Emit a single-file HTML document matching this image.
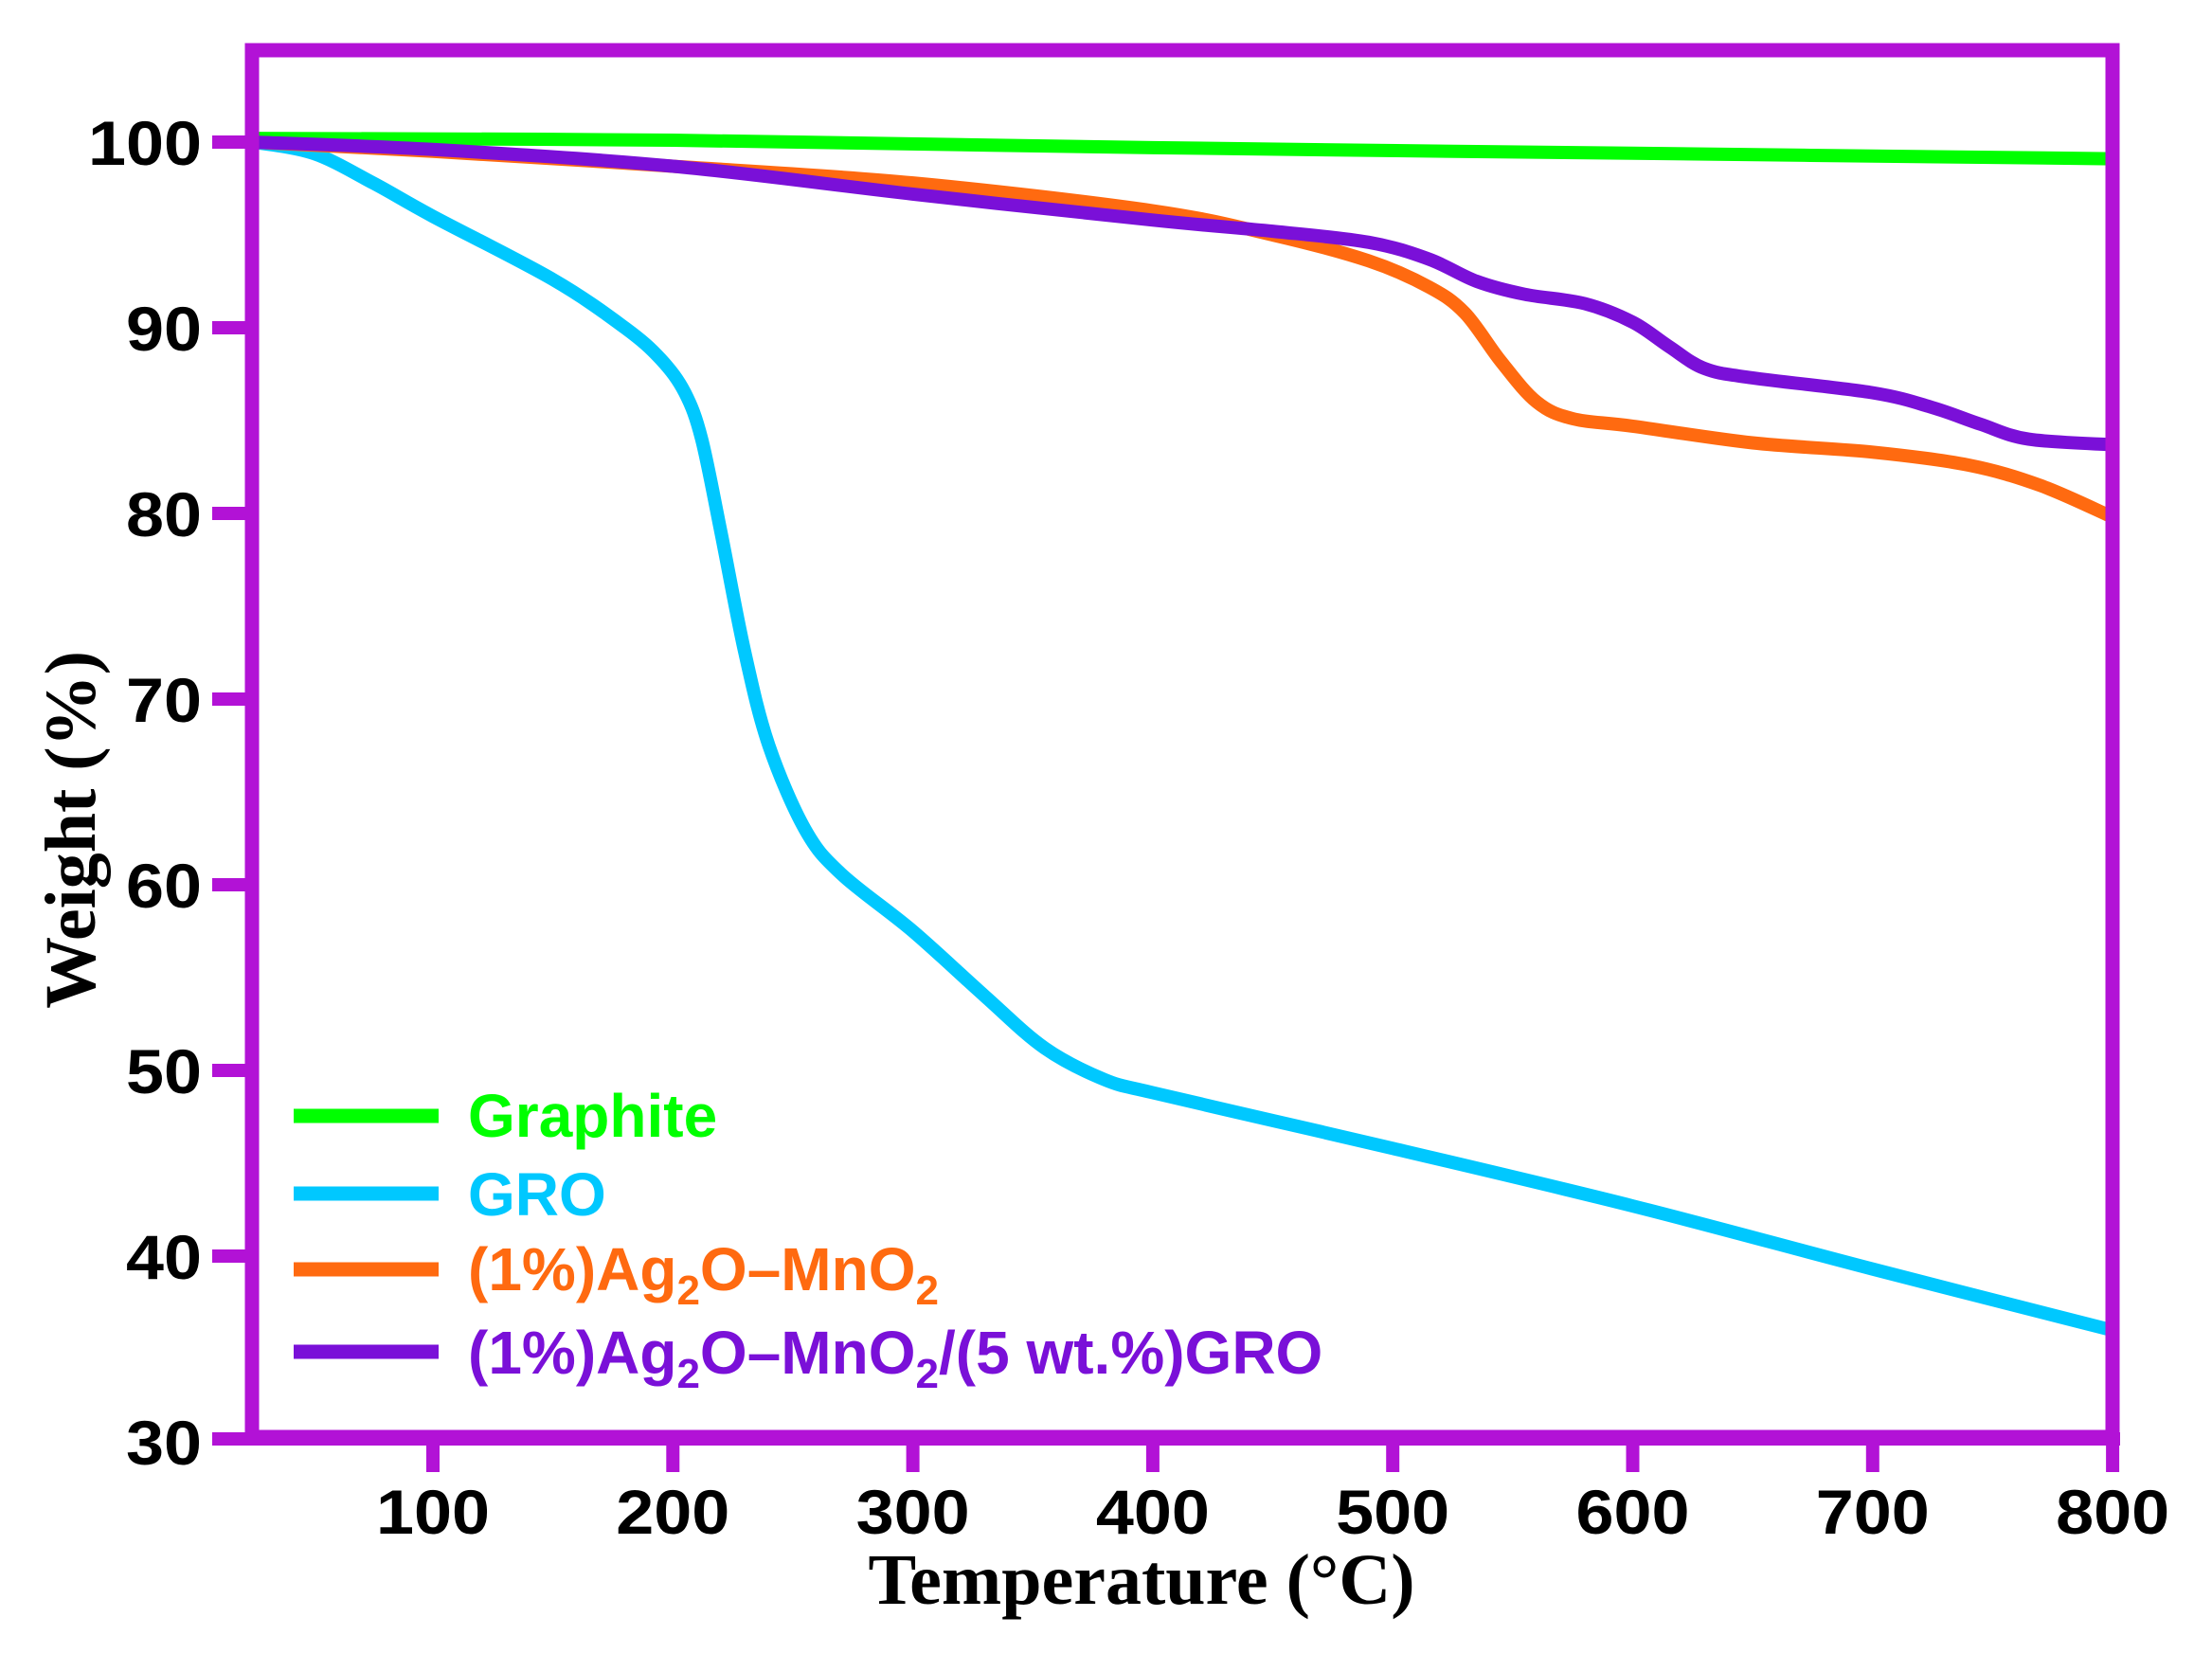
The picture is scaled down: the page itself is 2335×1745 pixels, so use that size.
<!DOCTYPE html>
<html><head><meta charset="utf-8"><style>
html,body{margin:0;padding:0;background:#fff;}
svg{display:block;}
</style></head><body>
<svg id="s" width="2335" height="1745" viewBox="0 0 2335 1745" xmlns="http://www.w3.org/2000/svg">
<g id="curves" fill="none" stroke-width="14" stroke-linejoin="round" stroke-linecap="butt"></g>
<rect x="266" y="53" width="1964" height="1464" fill="none" stroke="#B212D6" stroke-width="15"/>
<line x1="224" y1="1519" x2="2238" y2="1519" stroke="#B212D6" stroke-width="14"/>
<g id="ticks" stroke="#B212D6" stroke-width="14"></g>
<g font-family="Liberation Sans, Arial, sans-serif" font-weight="bold" font-size="66" fill="#000" id="labels"></g>
<text x="1205" y="1693" text-anchor="middle" font-family="Liberation Serif, serif" font-weight="bold" font-size="76">Temperature (°C)</text>
<text transform="translate(100,876) rotate(-90)" text-anchor="middle" font-family="Liberation Serif, serif" font-weight="bold" font-size="76">Weight (%)</text>
<g stroke-width="15">
<line x1="310" y1="1178" x2="463" y2="1178" stroke="#00FF00"/>
<line x1="310" y1="1260" x2="463" y2="1260" stroke="#00C8FF"/>
<line x1="310" y1="1340" x2="463" y2="1340" stroke="#FF6A10"/>
<line x1="310" y1="1427" x2="463" y2="1427" stroke="#7A10D8"/>
</g>
<g font-family="Liberation Sans, Arial, sans-serif" font-weight="bold" font-size="64">
<text x="494" y="1200" fill="#00FF00">Graphite</text>
<text x="494" y="1283" fill="#00C8FF">GRO</text>
<text x="494" y="1362" fill="#FF6A10">(1%)Ag<tspan font-size="44" dy="15">2</tspan><tspan dy="-15">O–MnO</tspan><tspan font-size="44" dy="15">2</tspan></text>
<text x="494" y="1450" fill="#7A10D8">(1%)Ag<tspan font-size="44" dy="15">2</tspan><tspan dy="-15">O–MnO</tspan><tspan font-size="44" dy="15">2</tspan><tspan dy="-15">/(5 wt.%)GRO</tspan></text>
</g>
</svg>
<script>
var NS="http://www.w3.org/2000/svg";
function X(t){return 457+(t-100)*2.533;}
function Y(w){return 150+(100-w)*19.6;}
var series=[
["#00FF00",[[25,100.2],[200,100.1],[400,99.7],[600,99.4],[800,99.1]]],
["#00C8FF",[[25,100],[50,99.4],[75,97.8],[100,96],[150,92.6],[180,90],[195,88.3],[205,86.5],[212,84],[220,79],[230,72.5],[240,67.5],[255,63],[270,60.6],[300,57.5],[330,54],[355,51.2],[380,49.5],[400,48.8],[450,47.3],[500,45.8],[600,42.7],[700,39.3],[800,36]]],
["#FF6A10",[[25,100],[100,99.5],[200,98.7],[300,97.8],[400,96.3],[450,95],[490,93.6],[515,92.2],[530,90.8],[545,88.2],[560,86],[575,85.1],[600,84.7],[650,83.8],[700,83.3],[740,82.6],[770,81.5],[800,79.8]]],
["#7A10D8",[[25,100],[100,99.6],[200,98.7],[300,97.2],[400,95.8],[450,95.2],[490,94.6],[515,93.7],[535,92.5],[555,91.8],[580,91.3],[600,90.3],[615,89],[630,87.8],[650,87.3],[700,86.5],[725,85.7],[745,84.8],[765,84],[800,83.7]]]
];
var g=document.getElementById("curves");
series.forEach(function(s){
 var P=s[1].map(function(q){return [X(q[0]),Y(q[1])];});
 var d="M"+P[0][0].toFixed(1)+","+P[0][1].toFixed(1);
 for(var i=0;i<P.length-1;i++){
  var p0=P[i>0?i-1:i],p1=P[i],p2=P[i+1],p3=P[i+2<P.length?i+2:i+1];
  var c1=[p1[0]+(p2[0]-p0[0])/6,p1[1]+(p2[1]-p0[1])/6];
  var c2=[p2[0]-(p3[0]-p1[0])/6,p2[1]-(p3[1]-p1[1])/6];
  d+=" C"+c1[0].toFixed(1)+","+c1[1].toFixed(1)+" "+c2[0].toFixed(1)+","+c2[1].toFixed(1)+" "+p2[0].toFixed(1)+","+p2[1].toFixed(1);
 }
 var p=document.createElementNS(NS,"path");
 p.setAttribute("stroke",s[0]);p.setAttribute("d",d);
 g.appendChild(p);
});
var tk=document.getElementById("ticks"),lb=document.getElementById("labels");
function ln(a,b,c,d){var l=document.createElementNS(NS,"line");l.setAttribute("x1",a);l.setAttribute("y1",b);l.setAttribute("x2",c);l.setAttribute("y2",d);tk.appendChild(l);}
function tx(x,y,s,anc,len){var t=document.createElementNS(NS,"text");t.setAttribute("x",x);t.setAttribute("y",y);t.setAttribute("text-anchor",anc);if(len){t.setAttribute("textLength",len);t.setAttribute("lengthAdjust","spacingAndGlyphs");}t.textContent=s;lb.appendChild(t);}
for(var t=100;t<=800;t+=100){ln(X(t),1519,X(t),1554);tx(X(t),1619,String(t),"middle",120);}
for(var w=30;w<=100;w+=10){var y=Y(w);if(w>30)ln(224,y,266,y);tx(213,y+24,String(w),"end",w==100?120:80);}
</script>
</body></html>
